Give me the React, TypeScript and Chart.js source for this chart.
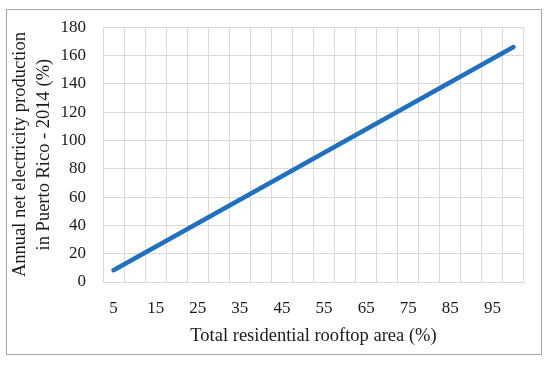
import React, { useEffect, useRef } from "react";
import { Chart, registerables } from "chart.js";

Chart.register(...registerables);

const categories = ["5", "10", "15", "20", "25", "30", "35", "40", "45", "50", "55", "60", "65", "70", "75", "80", "85", "90", "95", "100"];
const production = [8.3, 16.6, 24.9, 33.2, 41.5, 49.8, 58.1, 66.4, 74.7, 83.0, 91.3, 99.6, 107.9, 116.2, 124.5, 132.8, 141.1, 149.4, 157.7, 166.0];
const xTitle = "Total residential rooftop area (%)";
const yTitle = ["Annual net electricity production", "in Puerto Rico - 2014 (%)"];

const FONT = "'Liberation Serif', 'Times New Roman', serif";

export default function App() {
  const ref = useRef<HTMLCanvasElement | null>(null);
  useEffect(() => {
    if (!ref.current) return;
    const chart = new Chart(ref.current, {
      type: "line",
      data: {
        labels: categories,
        datasets: [
          {
            data: production,
            borderColor: "#1f70c1",
            borderWidth: 4.5,
            borderCapStyle: "round",
            pointRadius: 0,
            fill: false,
            tension: 0,
          },
        ],
      },
      options: {
        animation: false,
        responsive: false,
        maintainAspectRatio: false,
        layout: { padding: { left: 0, right: 26, top: 26, bottom: 0 } },
        plugins: { legend: { display: false }, tooltip: { enabled: false } },
        scales: {
          x: {
            type: "category",
            offset: true,
            grid: { offset: true, color: "#d9d9d9", lineWidth: 1, drawTicks: false },
            border: { color: "#d9d9d9" },
            ticks: {
              autoSkip: false,
              maxRotation: 0,
              padding: 16,
              color: "#1a1a1a",
              font: { family: FONT, size: 17 },
              callback: (_v: any, i: number) => (i % 2 === 0 ? categories[i] : ""),
            },
            title: {
              display: true,
              text: xTitle,
              color: "#1a1a1a",
              font: { family: FONT, size: 18.5, lineHeight: 1.2 },
              padding: { top: 0, bottom: 18 },
            },
            afterFit: (s: any) => {
              s.height = 83;
            },
          },
          y: {
            min: 0,
            max: 180,
            grid: { color: "#d9d9d9", lineWidth: 1, drawTicks: false },
            border: { color: "#d9d9d9" },
            ticks: {
              stepSize: 20,
              padding: 17,
              color: "#1a1a1a",
              font: { family: FONT, size: 17 },
            },
            title: {
              display: true,
              text: yTitle,
              color: "#1a1a1a",
              font: { family: FONT, size: 18.5, lineHeight: 1.25 },
              padding: { top: 9, bottom: 0 },
            },
            afterFit: (s: any) => {
              s.width = 103;
            },
          },
        },
      },
    });
    return () => chart.destroy();
  }, []);

  return (
    <div style={{ position: "fixed", left: 0, top: 0, width: 550, height: 365, background: "#fff" }}>
      <div
        style={{
          position: "absolute",
          left: 6,
          top: 9,
          width: 534,
          height: 344,
          border: "1px solid #a6a6a6",
        }}
      />
      <canvas ref={ref} width={550} height={365} style={{ position: "absolute", left: 0, top: 0, width: 550, height: 365 }} />
    </div>
  );
}
